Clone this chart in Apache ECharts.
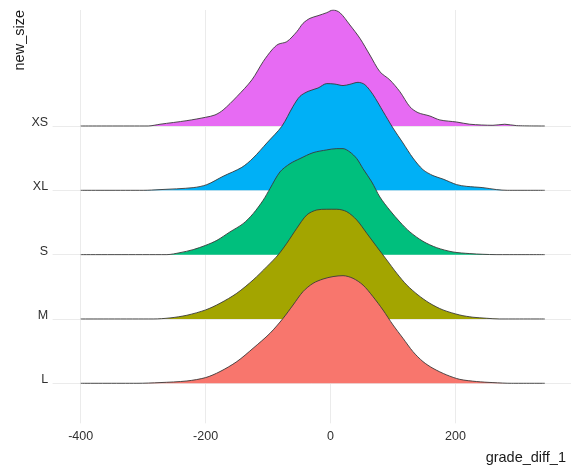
<!DOCTYPE html>
<html>
<head>
<meta charset="utf-8">
<script src="https://cdn.jsdelivr.net/npm/echarts@6/dist/echarts.min.js"></script>
<style>html,body{margin:0;padding:0;background:#fff;}#c{width:571px;height:466px;}</style>
</head>
<body>
<div id="c"></div>
<script>
// Categories (bottom to top)
const sizes = ['L', 'M', 'S', 'XL', 'XS'];
const colors = ['#F8766D', '#A3A500', '#00BF7D', '#00B0F6', '#E76BF3'];
const xTicks = [-400, -200, 0, 200];

// Density curves: x positions and relative heights (peak of XS = 1)
const xL = [-400,-310,-273,-230,-200,-177,-150,-124,-97,-76,-60,-44,-28,-12,4,20,36,52,68,84,100,116,132,148,164,186,207,234,260,290,343];
const hL = [0,0,0.006,0.020,0.049,0.101,0.187,0.302,0.431,0.560,0.675,0.791,0.862,0.899,0.920,0.928,0.905,0.847,0.747,0.632,0.503,0.388,0.273,0.187,0.129,0.072,0.034,0.015,0.006,0,0];

const xM = [-400,-284,-257,-230,-200,-177,-150,-124,-102,-84,-70,-54,-38,-22,-6,10,26,42,58,74,90,106,122,140,159,180,207,228,250,270,343];
const hM = [0,0,0.009,0.032,0.078,0.135,0.222,0.336,0.451,0.552,0.653,0.782,0.897,0.940,0.946,0.946,0.925,0.853,0.739,0.623,0.509,0.394,0.293,0.207,0.135,0.078,0.034,0.015,0.006,0,0];

const xS = [-400,-262,-241,-220,-200,-182,-161,-140,-124,-108,-97,-81,-65,-49,-28,-6,10,20,31,42,52,66,79,95,111,127,148,170,196,223,244,265,343];
const hS = [0,0,0.017,0.043,0.080,0.123,0.196,0.267,0.353,0.468,0.569,0.713,0.784,0.828,0.879,0.903,0.914,0.914,0.885,0.828,0.741,0.627,0.497,0.382,0.282,0.196,0.115,0.060,0.023,0.009,0.003,0,0];

const xXL = [-400,-300,-273,-220,-198,-172,-142,-124,-102,-78,-60,-49,-36,-20,-6,7,20,31,44,55,68,84,100,116,132,148,164,180,202,218,244,266,283,343];
const hXL = [0,0,0.006,0.023,0.049,0.121,0.198,0.278,0.408,0.552,0.724,0.810,0.853,0.882,0.920,0.916,0.903,0.914,0.931,0.911,0.825,0.681,0.537,0.408,0.278,0.178,0.127,0.097,0.049,0.034,0.023,0.006,0,0];

const xXS = [-400,-292,-273,-230,-200,-185,-172,-150,-126,-108,-94,-84,-70,-54,-44,-33,-20,-6,4,15,31,47,63,79,95,111,127,140,159,175,202,223,260,279,298,343];
const hXS = [0,0,0.015,0.046,0.075,0.095,0.138,0.253,0.397,0.554,0.655,0.704,0.727,0.813,0.885,0.928,0.951,0.977,1.0,0.977,0.871,0.756,0.612,0.468,0.397,0.296,0.166,0.115,0.086,0.052,0.034,0.015,0.006,0.015,0.003,0];

const curveX = [xL, xM, xS, xXL, xXS];
const curveH = [hL, hM, hS, hXL, hXS];
const ridgeScale = 1.803; // tallest ridge height in category units

const font = "'Liberation Sans', Arial, sans-serif";
const chart = echarts.init(document.getElementById('c'), null, {renderer: 'canvas'});

const series = [];
for (let i = sizes.length - 1; i >= 0; i--) {
  const data = curveX[i].map((x, j) => [x, i + curveH[i][j] * ridgeScale]);
  series.push({
    type: 'line',
    name: sizes[i],
    data: data,
    smooth: 0.3,
    showSymbol: false,
    symbol: 'none',
    lineStyle: {color: '#3a3a3a', width: 0.9},
    areaStyle: {color: colors[i], opacity: 1, origin: i},
    silent: true
  });
}

chart.setOption({
  animation: false,
  backgroundColor: '#ffffff',
  grid: {left: 52.6, right: 0, top: 10, bottom: 42.7, containLabel: false},
  xAxis: {
    type: 'value',
    min: -445, max: 385,
    axisLine: {show: false},
    axisTick: {show: false, customValues: xTicks},
    axisLabel: {customValues: xTicks, color: '#303030', fontSize: 12.5, fontFamily: font, margin: 6.5},
    splitLine: {show: true, lineStyle: {color: '#EBEBEB', width: 1}}
  },
  yAxis: {
    type: 'value',
    min: -0.622, max: 5.803,
    axisLine: {show: false},
    axisTick: {show: false, customValues: [0, 1, 2, 3, 4]},
    axisLabel: {
      customValues: [0.055, 1.055, 2.055, 3.055, 4.055],
      formatter: v => sizes[Math.round(v)],
      color: '#303030', fontSize: 12.5, fontFamily: font, margin: 4.5, verticalAlign: 'middle'
    },
    splitLine: {show: true, lineStyle: {color: '#EBEBEB', width: 1}}
  },
  graphic: [
    {type: 'text', x: 19.5, y: 10, rotation: Math.PI / 2,
     style: {text: 'new_size', fill: '#1a1a1a', fontSize: 14.5, fontFamily: font, align: 'right', verticalAlign: 'middle'}},
    {type: 'text', x: 566, y: 458,
     style: {text: 'grade_diff_1', fill: '#1a1a1a', fontSize: 14.5, fontFamily: font, align: 'right', verticalAlign: 'middle'}}
  ],
  series: series
});
</script>
</body>
</html>
